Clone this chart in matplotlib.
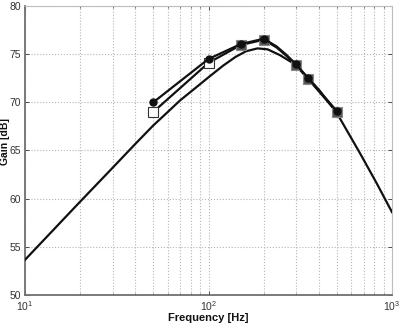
import matplotlib
matplotlib.use("Agg")
import matplotlib.pyplot as plt

# Simulated gain curve (no markers)
model_freq = [10, 20, 30, 40, 50, 60, 70, 85, 100, 120, 140, 160, 185,
              210, 245, 290, 350, 400, 500, 670, 825, 1000]
model_gain = [53.65, 59.7, 63.2, 65.7, 67.6, 69.0, 70.2, 71.5, 72.6, 73.8,
              74.7, 75.3, 75.6, 75.5, 74.9, 74.05, 72.5, 71.3, 68.9, 64.7,
              61.6, 58.6]

# Measured points (filled circles) plus two shape points on the bend
meas_freq = [50, 100, 150, 200, 235, 265, 300, 350, 500]
meas_gain = [70.0, 74.5, 76.05, 76.6, 75.8, 74.95, 73.95, 72.5, 69.1]

# Second measurement (open squares)
sq_freq = [50, 100, 150, 200, 235, 265, 300, 350, 500]
sq_gain = [69.0, 74.1, 75.95, 76.5, 75.7, 74.85, 73.85, 72.4, 69.0]

open_idx = [0, 1]
shaded_idx = [2, 3, 6, 7, 8]
circle_idx = [0, 1, 2, 3, 6, 7, 8]

x_ticks = [10, 100, 1000]
y_ticks = [50, 55, 60, 65, 70, 75, 80]

plt.rcParams["font.family"] = ["Liberation Sans", "DejaVu Sans"]

fig = plt.figure(figsize=(4.0, 3.24), dpi=100)
fig.patch.set_facecolor("white")
ax = fig.add_axes([0.0625, 0.0895, 0.9175, 0.892])

ax.semilogx(model_freq, model_gain, color="#111111", linewidth=1.6,
            solid_joinstyle="round", zorder=3)
ax.semilogx(sq_freq, sq_gain, color="#111111", linewidth=1.6, zorder=3)
ax.semilogx([sq_freq[i] for i in open_idx], [sq_gain[i] for i in open_idx],
            linestyle="none", marker="s", markersize=7.5,
            markerfacecolor="white", markeredgecolor="#333333",
            markeredgewidth=0.8, zorder=4)
ax.semilogx([sq_freq[i] for i in shaded_idx],
            [sq_gain[i] for i in shaded_idx],
            linestyle="none", marker="s", markersize=6.5,
            markerfacecolor="#555555", markeredgecolor="#888888",
            markeredgewidth=0.8, zorder=4)
ax.semilogx(meas_freq, meas_gain, color="#111111", linewidth=1.6,
            marker="o", markersize=5, markerfacecolor="#111111",
            markeredgecolor="#111111", markevery=circle_idx, zorder=5)

ax.set_xlim(10, 1000)
ax.set_ylim(50, 80)
ax.set_xticks(x_ticks)
ax.set_yticks(y_ticks)

ax.grid(True, which="major", color="#b5b5b5", linestyle=":", linewidth=0.8)
ax.grid(True, which="minor", axis="x", color="#b5b5b5", linestyle=":",
        linewidth=0.8)
ax.set_axisbelow(True)

ax.tick_params(which="both", direction="in", top=True, right=True,
               labelsize=7.5, colors="#333333", pad=3)
ax.tick_params(which="major", length=3, width=0.6)
ax.tick_params(which="minor", length=1.5, width=0.5)

for side in ("left", "bottom"):
    ax.spines[side].set_color("#707070")
    ax.spines[side].set_linewidth(1.3)
for side in ("top", "right"):
    ax.spines[side].set_color("#bdbdbd")
    ax.spines[side].set_linewidth(0.8)

ax.set_xlabel("Frequency [Hz]", fontsize=8, fontweight="bold",
              color="#111111", labelpad=0)
ax.set_ylabel("Gain [dB]", fontsize=7.5, fontweight="bold", color="#111111")
ax.yaxis.set_label_coords(-0.04, 0.53)

fig.savefig("out.png", dpi=100, facecolor="white")
